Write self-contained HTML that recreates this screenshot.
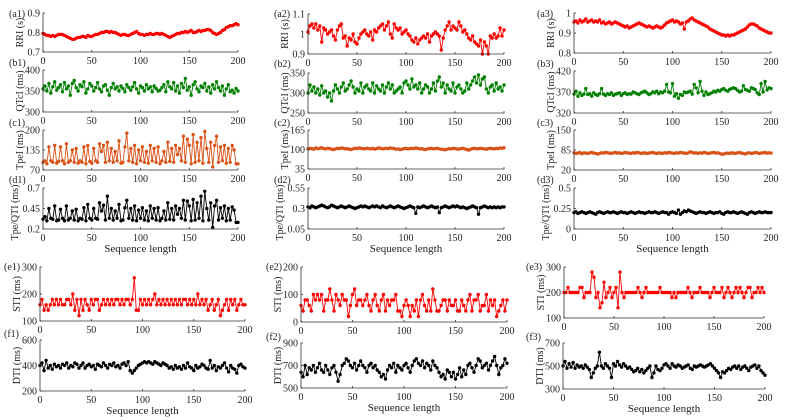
<!DOCTYPE html>
<html><head><meta charset="utf-8"><style>
html,body{margin:0;padding:0;background:#fff;}
svg{display:block;font-family:"Liberation Serif",serif;}
</style></head><body>
<svg id="fig" width="789" height="420" viewBox="0 0 789 420" xmlns="http://www.w3.org/2000/svg"></svg>
<script>
const xTicks = [0,50,100,150,200];
const a1 = [.795,.79,.785,.785,.78,.785,.78,.785,.79,.79,.79,.785,.78,.775,.77,.765,.765,.77,.775,.775,.78,.78,.775,.785,.78,.78,.785,.79,.79,.795,.80,.80,.805,.805,.80,.805,.80,.80,.795,.79,.785,.79,.79,.785,.785,.79,.795,.80,.805,.795,.79,.79,.785,.79,.79,.795,.79,.79,.795,.795,.79,.795,.79,.785,.78,.775,.78,.785,.79,.795,.795,.80,.80,.805,.80,.805,.81,.80,.80,.805,.81,.805,.81,.81,.815,.815,.81,.80,.795,.79,.795,.80,.81,.815,.825,.83,.835,.835,.84,.845,.84];
const b1 = [355,362,350,368,345,360,372,352,358,365,348,370,355,362,340,368,375,358,350,365,360,372,345,355,368,362,350,358,370,355,348,362,365,352,340,358,368,355,360,350,362,356,348,365,358,352,360,370,355,345,362,358,350,365,355,360,348,362,356,350,352,358,365,348,372,360,355,370,350,362,345,368,358,380,352,360,340,365,372,355,348,362,358,368,350,360,345,365,355,372,358,350,362,340,355,365,348,352,345,356,350];
const c1 = [95,100,90,145,100,95,150,92,98,145,100,90,155,95,100,135,95,140,92,100,95,145,90,150,98,92,140,100,95,155,130,150,95,160,100,140,95,130,100,165,92,95,145,190,100,140,95,150,90,135,100,145,95,130,92,150,100,140,95,145,90,100,130,95,160,98,140,95,150,120,140,100,180,95,170,150,90,185,95,160,100,175,92,195,140,95,160,80,150,180,95,145,100,150,92,140,95,150,135,90,90];
const d1 = [.32,.35,.30,.45,.33,.32,.48,.30,.31,.44,.33,.30,.48,.31,.33,.42,.31,.44,.30,.33,.32,.46,.30,.50,.33,.31,.45,.33,.32,.52,.42,.49,.31,.60,.33,.45,.31,.42,.33,.50,.30,.31,.46,.55,.33,.45,.31,.48,.30,.43,.33,.46,.31,.42,.30,.48,.33,.45,.31,.46,.30,.33,.42,.31,.52,.32,.45,.31,.48,.38,.45,.33,.55,.31,.54,.48,.30,.56,.31,.52,.33,.60,.30,.66,.45,.31,.52,.22,.48,.55,.31,.46,.33,.48,.30,.45,.31,.47,.43,.28,.28];
const e1 = [160,180,140,160,140,160,180,160,180,160,180,160,160,180,180,160,200,140,180,120,180,140,180,160,140,180,160,180,180,140,160,180,160,180,160,180,160,180,180,160,180,160,180,180,160,180,260,140,140,180,160,180,160,180,160,180,200,160,180,160,180,160,180,160,180,160,180,160,180,160,180,180,160,180,160,180,160,200,160,180,160,180,140,160,180,140,160,180,120,140,160,180,140,180,160,180,140,160,180,160,160];
const f1 = [400,420,360,440,380,400,370,410,390,400,380,410,400,420,380,400,390,420,410,380,400,420,380,400,410,390,400,370,410,400,390,420,400,380,410,400,420,390,400,380,410,420,400,430,360,340,360,380,400,410,420,430,420,430,420,410,430,420,410,400,420,410,400,380,390,370,400,380,390,370,400,380,420,390,380,360,400,380,390,410,400,380,370,440,380,400,360,390,380,400,420,380,350,400,380,370,340,400,410,390,380];
const a2 = [1.01,1.04,1.05,1.03,1.05,1.02,1.04,0.96,1.03,1.02,1.00,1.01,1.02,0.99,0.97,1.02,1.04,1.05,0.98,0.99,0.94,0.98,0.97,1.00,0.96,0.95,0.98,1.00,1.01,1.02,1.00,0.99,1.01,0.97,1.02,1.01,1.03,1.04,1.05,1.02,1.04,1.06,1.00,0.98,1.05,1.03,1.02,1.03,1.00,1.01,1.02,1.00,0.99,0.97,0.96,0.98,0.95,0.97,0.98,0.99,0.98,1.00,0.96,0.99,1.00,1.01,1.00,0.99,0.92,0.98,1.02,1.04,1.06,1.02,1.04,1.03,1.02,1.06,1.04,1.01,1.02,1.00,0.98,0.97,0.99,0.96,0.95,0.94,0.97,0.90,0.96,0.94,0.90,0.99,0.98,1.00,0.98,0.99,1.03,0.99,1.02];
const b2 = [300,320,305,315,300,310,295,318,300,305,290,300,280,305,320,310,300,315,325,305,310,320,330,315,300,310,305,325,300,315,320,310,305,325,300,318,310,305,320,300,315,325,310,320,300,305,310,315,300,325,330,320,310,335,315,320,310,325,300,310,320,315,300,310,325,305,330,340,315,325,300,320,310,305,325,300,315,320,310,300,305,325,310,320,330,340,325,345,320,335,340,310,300,315,320,305,325,310,315,305,320];
const c2 = [102,104,103,101,105,103,104,106,103,102,104,103,101,100,102,104,103,105,104,102,103,101,100,102,104,103,105,104,103,102,104,103,102,104,101,103,105,104,102,103,104,103,105,104,103,101,102,100,101,103,104,102,103,104,103,105,104,102,103,101,100,102,103,104,102,103,104,102,101,100,99,101,103,102,104,103,102,101,103,104,102,100,98,101,103,104,102,103,104,103,102,101,103,104,103,102,104,103,105,104,106];
const d2 = [.32,.31,.33,.32,.31,.32,.33,.34,.33,.32,.31,.32,.34,.33,.32,.31,.32,.33,.32,.31,.32,.33,.32,.31,.30,.31,.32,.33,.32,.33,.32,.31,.32,.33,.32,.33,.32,.31,.33,.32,.31,.32,.33,.32,.31,.32,.33,.32,.31,.30,.31,.32,.33,.32,.31,.24,.32,.31,.32,.33,.32,.31,.32,.33,.32,.31,.32,.25,.31,.32,.33,.32,.31,.32,.33,.32,.33,.32,.31,.32,.31,.30,.31,.32,.33,.32,.31,.23,.31,.32,.33,.32,.31,.32,.31,.32,.31,.32,.31,.32,.32];
const e2 = [60,40,80,80,60,40,100,80,100,80,100,40,80,80,120,80,40,100,80,60,100,80,80,20,60,100,120,60,80,80,60,80,100,60,40,80,100,60,40,80,100,40,80,60,80,80,100,40,40,20,60,80,60,20,60,40,80,20,80,100,60,40,80,40,120,80,40,40,60,80,80,40,80,60,60,80,40,40,80,60,40,80,100,40,80,80,100,40,60,60,100,40,80,60,80,20,40,60,80,40,80];
const f2 = [640,600,700,620,680,660,700,640,680,720,660,640,700,660,620,680,700,640,560,620,700,720,760,740,700,680,720,660,700,740,700,680,640,700,720,680,700,660,640,600,620,580,660,700,680,720,640,700,680,660,700,720,680,640,700,740,760,720,700,740,680,720,700,660,740,700,680,640,600,620,580,660,640,600,640,580,620,680,600,660,620,700,720,680,640,700,760,740,680,700,720,660,700,740,780,700,620,680,700,760,720];
const a3 = [.955,.96,.95,.965,.955,.96,.97,.955,.96,.965,.955,.96,.955,.965,.95,.955,.945,.95,.955,.945,.95,.955,.95,.945,.94,.935,.93,.935,.925,.93,.935,.94,.945,.95,.945,.94,.935,.93,.935,.93,.925,.93,.935,.93,.925,.93,.94,.95,.955,.96,.965,.955,.96,.955,.945,.95,.92,.955,.96,.97,.975,.965,.96,.955,.95,.945,.94,.935,.93,.92,.915,.91,.905,.90,.895,.89,.89,.885,.89,.885,.89,.89,.895,.90,.905,.91,.915,.92,.93,.94,.945,.945,.94,.935,.925,.92,.915,.91,.905,.90,.90];
const b3 = [365,372,360,368,362,365,378,364,366,360,368,364,362,366,378,365,362,366,364,368,362,365,366,368,362,366,368,364,366,365,370,368,366,364,368,370,372,368,364,366,370,368,372,366,370,368,372,388,370,368,390,360,366,355,364,362,370,368,370,372,365,388,380,368,395,372,362,370,364,366,368,372,370,374,372,376,378,374,372,376,378,380,378,374,370,372,385,376,374,372,380,378,376,368,364,390,370,395,375,380,378];
const c3 = [76,74,75,77,73,76,75,74,76,77,75,74,72,74,76,75,77,76,75,74,76,77,75,76,74,75,77,76,75,74,76,75,77,76,74,75,76,74,75,76,77,75,74,76,75,74,76,75,77,76,75,74,76,75,77,76,75,74,76,79,77,75,76,74,76,75,77,76,74,75,76,77,75,76,74,71,72,74,75,74,76,75,74,76,77,75,74,72,75,76,74,75,77,76,74,75,76,77,75,76,75];
const d3 = [.20,.21,.19,.20,.21,.20,.19,.20,.21,.20,.19,.18,.20,.21,.20,.19,.20,.21,.20,.20,.21,.20,.19,.20,.21,.20,.20,.19,.20,.21,.20,.19,.20,.21,.20,.20,.19,.20,.21,.20,.20,.21,.20,.19,.20,.21,.20,.20,.18,.20,.21,.20,.19,.23,.18,.20,.22,.21,.23,.22,.21,.20,.19,.20,.21,.20,.20,.19,.20,.21,.20,.19,.20,.20,.21,.19,.18,.20,.21,.20,.20,.21,.20,.19,.20,.21,.20,.19,.18,.20,.21,.20,.19,.20,.21,.20,.20,.21,.20,.20,.20];
const e3 = [200,200,220,200,200,200,200,200,220,220,180,200,200,200,280,260,180,200,140,160,240,180,200,220,180,200,220,140,280,200,180,200,200,200,200,200,200,220,200,180,200,220,200,200,200,200,200,200,220,200,200,200,200,200,180,200,180,200,200,200,200,200,220,200,180,200,200,200,220,200,200,200,200,180,200,220,200,200,200,220,180,200,220,200,180,200,220,200,220,200,180,200,220,220,180,200,200,220,200,220,200];
const f3 = [500,540,480,520,490,530,480,510,490,500,480,510,490,470,400,440,480,500,620,500,480,520,500,480,400,520,500,540,510,490,520,500,480,490,470,450,460,480,450,470,440,460,480,500,400,440,500,470,460,480,510,520,500,480,520,500,490,510,500,480,490,500,510,480,470,500,490,500,510,500,490,500,510,520,500,480,460,440,400,450,440,460,480,470,490,500,480,500,470,490,500,480,460,490,500,510,480,500,460,440,420];

const NS = "http://www.w3.org/2000/svg";
const svg = document.getElementById('fig');
function el(tag, attrs, parent){ const e=document.createElementNS(NS,tag); for(const k in attrs) e.setAttribute(k,attrs[k]); (parent||svg).appendChild(e); return e; }

const panels = [
 {id:'a1',data:a1,col:'#ff0000',x0:43,x1:238,yt:13,yb:52,min:.7,max:.9,ticks:['0.7','0.8','0.9'],lab:'RRI (s)',tx:9,ty:17},
 {id:'b1',data:b1,col:'#008000',x0:43,x1:238,yt:70,yb:112,min:300,max:400,ticks:['300','350','400'],lab:'QTcI (ms)',tx:9,ty:66},
 {id:'c1',data:c1,col:'#d95319',x0:43,x1:238,yt:130,yb:170,min:70,max:200,ticks:['70','135','200'],lab:'TpeI (ms)',tx:9,ty:126},
 {id:'d1',data:d1,col:'#000000',x0:43,x1:238,yt:188,yb:229,min:.2,max:.7,ticks:['0.2','0.45','0.7'],lab:'Tpe/QTI (ms)',tx:9,ty:183,seq:true},
 {id:'a2',data:a2,col:'#ff0000',x0:308,x1:504,yt:14,yb:54,min:.9,max:1.1,ticks:['0.9','1','1.1'],lab:'RRI (s)',tx:274,ty:17},
 {id:'b2',data:b2,col:'#008000',x0:308,x1:504,yt:73,yb:113,min:250,max:350,ticks:['250','300','350'],lab:'QTcI (ms)',tx:274,ty:67},
 {id:'c2',data:c2,col:'#d95319',x0:308,x1:504,yt:130,yb:169,min:35,max:165,ticks:['35','100','165'],lab:'TpeI (ms)',tx:274,ty:126},
 {id:'d2',data:d2,col:'#000000',x0:308,x1:504,yt:188,yb:229,min:.05,max:.55,ticks:['0.05','0.3','0.55'],lab:'Tpe/QTI (ms)',tx:274,ty:183,seq:true},
 {id:'a3',data:a3,col:'#ff0000',x0:574,x1:771,yt:13,yb:53,min:.8,max:1,ticks:['0.8','0.9','1'],lab:'RRI (s)',tx:537,ty:17},
 {id:'b3',data:b3,col:'#008000',x0:574,x1:771,yt:71,yb:113,min:320,max:420,ticks:['320','370','420'],lab:'QTcI (ms)',tx:537,ty:67},
 {id:'c3',data:c3,col:'#d95319',x0:574,x1:771,yt:130,yb:170,min:20,max:150,ticks:['20','85','150'],lab:'TpeI (ms)',tx:537,ty:126},
 {id:'d3',data:d3,col:'#000000',x0:574,x1:771,yt:188,yb:229,min:0,max:.5,ticks:['0','0.25','0.5'],lab:'Tpe/QTI (ms)',tx:537,ty:183,seq:true},
 {id:'e1',data:e1,col:'#ff0000',x0:40,x1:245,yt:267,yb:321,min:100,max:300,ticks:['100','200','300'],lab:'STI (ms)',tx:4,ty:270},
 {id:'f1',data:f1,col:'#000000',x0:40,x1:245,yt:340,yb:391,min:200,max:600,ticks:['200','400','600'],lab:'DTI (ms)',tx:4,ty:337,seq:true},
 {id:'e2',data:e2,col:'#ff0000',x0:301,x1:507,yt:267,yb:322,min:0,max:200,ticks:['0','100','200'],lab:'STI (ms)',tx:266,ty:270},
 {id:'f2',data:f2,col:'#000000',x0:301,x1:507,yt:343,yb:388,min:500,max:900,ticks:['500','700','900'],lab:'DTI (ms)',tx:266,ty:340,seq:true},
 {id:'e3',data:e3,col:'#ff0000',x0:564,x1:764,yt:267,yb:318,min:100,max:300,ticks:['100','200','300'],lab:'STI (ms)',tx:526,ty:270},
 {id:'f3',data:f3,col:'#000000',x0:563,x1:765,yt:343,yb:389,min:300,max:700,ticks:['300','500','700'],lab:'DTI (ms)',tx:526,ty:340,seq:true}
];

panels.forEach(p=>{
  const g = el('g',{});
  
  
  const xs = v => p.x0 + (v/200)*(p.x1-p.x0);
  const ys = v => p.yb - (v-p.min)/(p.max-p.min)*(p.yb-p.yt);
  const n = p.data.length;
  const pts = p.data.map((v,i)=>xs(i*200/(n-1)).toFixed(1)+','+ys(v).toFixed(1)).join(' ');
  const line = el('polyline',{points:pts,fill:'none',stroke:p.col,'stroke-width':0.9},g);
  
  
  p.data.forEach((v,i)=>{
    const c = el('circle',{cx:xs(i*200/(n-1)).toFixed(1),cy:ys(v).toFixed(1),r:1.7,fill:p.col},g);
    
    
  });
  const ax = el('path',{d:`M${p.x0},${p.yt} V${p.yb} H${p.x1}`,fill:'none',stroke:'#333','stroke-width':0.8},g);
  
  
  xTicks.forEach(t=>{
    el('line',{x1:xs(t),x2:xs(t),y1:p.yb,y2:p.yb-2,stroke:'#333','stroke-width':0.8},g);
    const tl = el('text',{x:xs(t),y:p.yb+12,'font-size':10,'text-anchor':'middle',fill:'#222'},g);
    tl.textContent = t;
    
    
  });
  p.ticks.forEach(t=>{
    const yy = ys(parseFloat(t));
    el('line',{x1:p.x0,x2:p.x0+2,y1:yy,y2:yy,stroke:'#333','stroke-width':0.8},g);
    const tl = el('text',{x:p.x0-3,y:yy+3.5,'font-size':10,'text-anchor':'end',fill:'#222'},g);
    tl.textContent = t;
    
    
  });
  const cy = (p.yt+p.yb)/2 + (p.lab.length>9 ? 4 : 0);
  const maxLen = Math.max(...p.ticks.map(t=>t.length));
  const lx = p.x0 - (maxLen>3 ? 25 : 20);
  const yl = el('text',{x:lx,y:cy,'font-size':10,'text-anchor':'middle',fill:'#222',transform:`rotate(-90 ${lx} ${cy})`},g);
  yl.textContent = p.lab;
  
  
  const tag = el('text',{x:p.tx,y:p.ty,'font-size':10,fill:'#222'},g);
  tag.textContent = '('+p.id+')';
  
  
  if(p.seq){
    const sl = el('text',{x:(p.x0+p.x1)/2,y:p.yb+23,'font-size':11,'text-anchor':'middle',fill:'#222'},g);
    sl.textContent = 'Sequence length';
    
    
  }
});
</script>
</body></html>
